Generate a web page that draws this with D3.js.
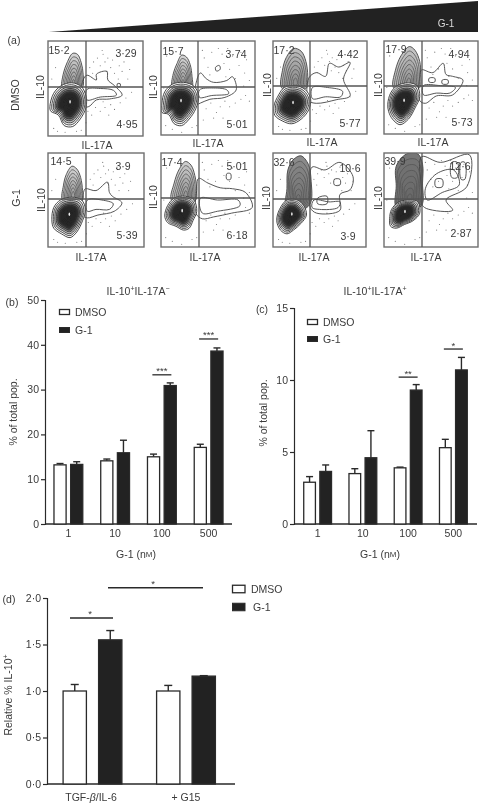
<!DOCTYPE html>
<html><head><meta charset="utf-8">
<script src="https://cdnjs.cloudflare.com/ajax/libs/d3/7.8.5/d3.min.js"></script>
<style>html,body{margin:0;padding:0;background:#fff}svg{display:block}text{font-family:"Liberation Sans",Arial,sans-serif;fill:#3a3a3a}</style>
</head><body><svg id="c" width="480" height="803"></svg>
<script>
// ---------- data ----------
const doses = ["1","10","100","500"];
const seriesNames = ["DMSO","G-1"];
const bDmso = [13.2,14.1,15.0,17.1], bDmsoTop = [13.5,14.5,15.6,17.8];
const bG1 = [13.3,15.9,30.9,38.6],   bG1Top = [13.9,18.7,31.5,39.3];
const cDmso = [2.9,3.5,3.9,5.3],     cDmsoTop = [3.29,3.84,3.95,5.88];
const cG1 = [3.65,4.6,9.3,10.7],     cG1Top = [4.1,6.48,9.68,11.57];
const dCats = ["TGF","G15"];
const dDmso = [1.0,1.0],  dDmsoTop = [1.07,1.06];
const dG1 = [1.55,1.16],  dG1Top = [1.65,1.165];
const bSig = [["100",33.3,"***"],["500",41.3,"***"]];
const cSig = [["100",10.2,"**"],["500",12.15,"*"]];
const yTicksB = [0,10,20,30,40,50], yTicksC = [0,5,10,15], yTicksD = [0,0.5,1,1.5,2];
// flow panels, reading order
const ulLabels = ["15·2","15·7","17·2","17·9","14·5","17·4","32·6","39·9"];
const urLabels = ["3·29","3·74","4·42","4·94","3·9","5·01","10·6","12·6"];
const lrLabels = ["4·95","5·01","5·77","5·73","5·39","6·18","3·9","2·87"];
// contour outlines in percent of the axis range (x right, y up)
const lobeOutlines = [
 [[15,50],[16,65],[20,77],[26,87],[31,86],[35,77],[37,65],[36,50],[25,44]],
 [[12,50],[13,65],[17,76],[22,85],[27,83],[31,75],[33,62],[33,50],[22,44]],
 [[9,50],[10,68],[14,82],[22,92],[30,89],[35,78],[37,62],[36,50],[22,44]],
 [[10,50],[12,68],[18,84],[27,94],[33,90],[38,78],[39,64],[38,50],[22,44]],
 [[15,50],[16,65],[19,77],[25,86],[30,83],[34,74],[36,60],[36,50],[25,44]],
 [[11,50],[14,68],[19,82],[26,91],[32,87],[36,76],[38,60],[37,50],[24,44]],
 [[14,40],[15,62],[16,82],[22,93],[30,97],[38,88],[41,70],[40,46],[28,38]],
 [[13,42],[13,65],[13,86],[24,99],[36,99],[41,88],[41,68],[40,44],[26,38]]];
const mainOutlines = [
 [[2,31],[6,45],[14,53],[25,56],[35,52],[40,42],[40,30],[34,18],[26,10],[17,11],[11,22],[3,26]],
 [[1,34],[4,46],[12,54],[24,56],[35,52],[40,42],[37,28],[30,17],[22,10],[14,12],[8,22],[1,24]],
 [[1,30],[6,42],[12,50],[24,52],[34,48],[40,38],[38,26],[30,16],[20,11],[10,14],[2,20]],
 [[4,32],[7,44],[14,52],[26,55],[35,52],[38,40],[33,28],[26,16],[17,10],[9,16],[5,24]],
 [[4,29],[6,42],[13,50],[25,53],[35,50],[39,40],[36,28],[30,16],[23,10],[14,14],[6,20]],
 [[4,33],[7,44],[14,52],[26,54],[35,50],[38,38],[34,28],[30,20],[24,18],[16,22],[7,26]],
 [[4,28],[7,40],[15,50],[26,50],[33,44],[36,34],[30,25],[22,18],[15,14],[8,18]],
 [[6,30],[8,40],[16,48],[28,50],[36,48],[38,36],[31,28],[22,24],[13,20],[7,22]]];
const tailOutlines = [
 [[37,59],[41,64],[51,59],[51,65],[62,68],[63,59],[70,53],[78,43],[65,39],[51,38],[43,31],[34,31]],
 [[38,58],[42,66],[48,60],[56,56],[70,58],[76,62],[80,48],[68,40],[52,38],[42,34],[36,32]],
 [[38,60],[46,66],[56,62],[60,76],[70,72],[82,77],[75,59],[82,41],[68,37],[46,33],[38,36]],
 [[38,62],[40,69],[52,66],[63,76],[66,64],[73,62],[84,58],[73,42],[56,41],[44,33],[38,36]],
 [[37,58],[39,62],[50,60],[62,69],[64,58],[67,54],[77,47],[69,38],[52,34],[41,31],[36,34]],
 [[38,60],[40,73],[50,68],[63,63],[76,62],[90,58],[97,42],[75,36],[56,32],[44,30],[37,36]],
 [[40,60],[42,85],[56,82],[72,90],[86,75],[83,61],[72,56],[72,39],[47,36],[40,42]],
 [[40,60],[40,96],[60,90],[91,98],[88,64],[66,50],[73,39],[45,41],[40,46]]];
const innerTails = [
 [[41,49],[55,50],[69,48],[72,43],[55,41],[41,38]],
 [[41,48],[56,50],[70,48],[72,44],[54,42],[41,40]],
 [[42,50],[58,50],[74,46],[72,40],[56,40],[42,38]],
 [[42,52],[60,52],[76,50],[70,44],[56,44],[42,42]],
 [[41,50],[56,50],[68,46],[64,40],[50,40],[41,38]],
 [[42,52],[60,50],[82,50],[84,44],[60,38],[44,36]],
 [[44,50],[60,48],[72,48],[70,42],[50,40],[42,42]],
 [[44,62],[56,78],[74,82],[80,66],[62,58],[46,50]]];
const loops = [
 [[[73,55],[76,55],[76,52],[73,52]]],
 [[[58,72],[62,74],[63,70],[59,68]]],
 [],
 [[[48,60],[54,60],[54,56],[48,56]],[[62,58],[68,58],[68,54],[62,54]]],
 [],
 [[[70,78],[74,78],[74,72],[70,72]]],
 [[[66,72],[72,72],[72,66],[66,66]],[[48,52],[58,54],[58,46],[48,46]]],
 [[[55,72],[62,72],[62,64],[55,64]],[[72,90],[78,90],[78,74],[72,74]],[[82,90],[86,90],[86,72],[82,72]]]];
const lobeShade = [.22,.22,.34,.3,.22,.26,.6,.7];
// scattered events (percent of axis range)
const eventsA = [[44,72],[48,78],[52,82],[55,74],[58,86],[60,78],[63,82],[66,72],[68,80],[70,66],[72,85],[75,74],[78,68],[80,78],[62,68],[57,90],[47,66],[84,60],[86,70],[74,60],[50,30],[55,26],[60,30],[66,33],[70,28],[76,35],[82,40],[64,22],[46,22],[58,36],[42,26],[88,46],[6,8],[10,5],[18,4],[30,5],[4,60],[8,72],[35,6],[40,14]];
const eventsB = [[46,82],[50,72],[54,88],[58,70],[61,92],[65,86],[67,76],[71,92],[73,70],[76,84],[79,60],[83,74],[85,88],[89,66],[91,80],[69,62],[52,64],[44,90],[94,58],[88,52],[48,28],[53,34],[59,24],[63,30],[68,36],[73,30],[79,34],[85,38],[90,42],[56,18],[45,16],[66,18],[94,36],[5,10],[12,6],[22,3],[33,8],[3,50],[6,84],[38,10]];

// ---------- layout ----------
const boxes = [
 [48,143,41,136,86,87],[161,255,41,135,198,87],[273,367,41,134,310,86],[384,478,41,134,422,86],
 [48,144,153,247,86,199],[161,255,153,247,199,198],[273,366,153,247,310,199],[384,478,153,247,422,199]];
const ulPos=[[59,50],[173,51],[284,50],[396,49],[61,161],[172,162],[284,162],[395,161]];
const urPos=[[126,53],[236,54],[348,54],[459,54],[123,166],[237,166],[350,168],[460,166]];
const lrPos=[[127,124],[237,124],[350,123],[462,122],[127,235],[237,235],[348,236],[461,233]];
const xlabPos=[[97,145],[208,143],[322,142],[433,142],[91,257],[205,257],[314,257],[426,257]];
const ylabPos=[[40,87],[153,87],[267,85],[378,85],[41,200],[153,197],[266,198],[378,198]];

const svg = d3.select("#c");
const defs = svg.append("defs");
defs.append("filter").attr("id","soft").attr("x","-2%").attr("y","-2%").attr("width","104%").attr("height","104%")
  .append("feGaussianBlur").attr("stdDeviation",0.45);
const root = svg.append("g").attr("filter","url(#soft)");
const INK="#2a2a2a", TXT="#3a3a3a", FS=10.5;

function label(s,x,y,opt={}){
  const t=root.append("text").attr("x",x).attr("y",y).attr("font-size",opt.size||FS)
   .attr("text-anchor",opt.anchor||"middle").attr("dominant-baseline","central").text(s);
  if(opt.rot) t.attr("transform",`rotate(${opt.rot} ${x} ${y})`);
  if(opt.fill) t.style("fill",opt.fill);
  return t;
}

// ---------- panel (a) ----------
root.append("polygon").attr("points","49,32 478,1 478,32").attr("fill","#222");
label("G-1",446,23,{fill:"#d8d8d8",size:10});
label("(a)",14,40);
label("DMSO",15,95,{rot:-90});
label("G-1",16,198,{rot:-90});

function shrink(pts,f,k){return pts.map(p=>[f[0]+(p[0]-f[0])*k,f[1]+(p[1]-f[1])*k]);}
const lobeRings=[.88,.76,.64,.52,.4,.28,.16];
const mainRings=[.91,.82,.73,.65,.57,.5,.43,.36,.29,.22,.16];
boxes.forEach((b,i)=>{
  const [x0,x1,y0,y1,dx,dy]=b;
  const sx=d3.scaleLinear().domain([0,100]).range([x0,x1]);
  const sy=d3.scaleLinear().domain([0,100]).range([y1,y0]);
  const line=d3.line().x(d=>sx(d[0])).y(d=>sy(d[1])).curve(d3.curveCatmullRomClosed.alpha(.5));
  const id="clip"+i;
  defs.append("clipPath").attr("id",id).append("rect").attr("x",x0).attr("y",y0).attr("width",x1-x0).attr("height",y1-y0);
  const g=root.append("g").attr("clip-path",`url(#${id})`);
  const ev=i%2?eventsB:eventsA;
  g.selectAll("circle").data(ev).join("circle").attr("cx",d=>sx(d[0])).attr("cy",d=>sy(d[1])).attr("r",0.55).attr("fill","#777");
  [tailOutlines[i],innerTails[i],...loops[i]].forEach(o=>{
    g.append("path").attr("d",line(o)).attr("fill","none").attr("stroke","#444").attr("stroke-width",.9);
  });
  // lobe rings
  const lobe=lobeOutlines[i];
  const lf=[d3.mean(lobe,d=>d[0]),d3.min(lobe,d=>d[1])+10];
  g.append("path").attr("d",line(lobe)).attr("fill",`rgba(60,60,60,${lobeShade[i]})`).attr("stroke","#444").attr("stroke-width",.9);
  lobeRings.forEach(k=>{
    g.append("path").attr("d",line(shrink(lobe,lf,k))).attr("fill","rgba(90,90,90,.08)").attr("stroke","#555").attr("stroke-width",.8);
  });
  // main blob
  const main=mainOutlines[i];
  const mf=d3.polygonCentroid(main);
  g.append("path").attr("d",line(main)).attr("fill","#fff").attr("stroke","#333").attr("stroke-width",.9);
  mainRings.forEach((k,j)=>{
    const fo=[.12,.2,.35,.5,.65,.7,.75,.8,.85,.9,.9][j];
    g.append("path").attr("d",line(shrink(main,mf,k)))
      .attr("fill",`rgba(35,35,35,${fo})`).attr("stroke","#2a2a2a").attr("stroke-width",.8);
  });
  g.append("ellipse").attr("cx",sx(mf[0]+1)).attr("cy",sy(mf[1]+2)).attr("rx",.8).attr("ry",1.8).attr("fill","#eee");
  // gates
  root.append("rect").attr("x",x0).attr("y",y0).attr("width",x1-x0).attr("height",y1-y0)
    .attr("fill","none").attr("stroke","#6e6e6e").attr("stroke-width",1.4);
  root.append("line").attr("x1",dx).attr("x2",dx).attr("y1",y0).attr("y2",y1).attr("stroke","#555").attr("stroke-width",1.3);
  root.append("line").attr("x1",x0).attr("x2",x1).attr("y1",dy).attr("y2",dy).attr("stroke","#555").attr("stroke-width",1.3);
  label(ulLabels[i],ulPos[i][0],ulPos[i][1]);
  label(urLabels[i],urPos[i][0],urPos[i][1]);
  label(lrLabels[i],lrPos[i][0],lrPos[i][1]);
  label("IL-17A",xlabPos[i][0],xlabPos[i][1]);
  label("IL-10",ylabPos[i][0],ylabPos[i][1],{rot:-90});
});

// ---------- bar panels ----------
function barPanel(o){
  const x=d3.scaleBand().domain(o.cats).range(o.xr);
  const xs=d3.scaleBand().domain(seriesNames).range([-o.half,o.half]).paddingInner(o.pad);
  const y=d3.scaleLinear().domain(o.yd).range([o.y0,o.y1]);
  const g=root.append("g");
  const ax=g.append("g").attr("transform",`translate(${o.axisX},0)`).call(d3.axisLeft(y).tickValues(o.ticks).tickSize(4).tickPadding(2).tickFormat(o.fmt));
  ax.selectAll("text").attr("font-size",FS).style("font-family",'"Liberation Sans",Arial,sans-serif').style("fill",TXT);
  ax.selectAll("line,path").attr("stroke",INK).attr("stroke-width",1.2);
  const bx=g.append("g").attr("transform",`translate(0,${o.y0})`).call(d3.axisBottom(x).tickSize(0).tickPadding(6).tickFormat(o.xfmt||(d=>d)));
  bx.select("path").attr("stroke",INK).attr("stroke-width",1.3).attr("d",`M${o.axisX},0H${o.axisEnd}`);
  bx.selectAll("text").attr("font-size",FS).style("font-family",'"Liberation Sans",Arial,sans-serif').style("fill",TXT);
  seriesNames.forEach((s,si)=>{
    const vals=si?o.g1:o.dmso, tops=si?o.g1Top:o.dmsoTop;
    o.cats.forEach((c,i)=>{
      const cx=x(c)+x.bandwidth()/2+xs(s);
      const w=xs.bandwidth();
      g.append("line").attr("x1",cx+w/2).attr("x2",cx+w/2).attr("y1",y(vals[i])).attr("y2",y(tops[i])).attr("stroke",INK).attr("stroke-width",1.4);
      g.append("line").attr("x1",cx+w/2-o.cap).attr("x2",cx+w/2+o.cap).attr("y1",y(tops[i])).attr("y2",y(tops[i])).attr("stroke",INK).attr("stroke-width",1.4);
      g.append("rect").attr("x",cx+.6).attr("y",y(vals[i])).attr("width",w-1.2).attr("height",y(0)-y(vals[i]))
        .attr("fill",si?"#222":"#fff").attr("stroke",INK).attr("stroke-width",1.3);
    });
  });
  (o.sig||[]).forEach(([c,v,st])=>{
    const cx=x(c)+x.bandwidth()/2;
    g.append("line").attr("x1",cx-9.5).attr("x2",cx+9.5).attr("y1",y(v)).attr("y2",y(v)).attr("stroke",INK).attr("stroke-width",1.3);
    label(st,cx,y(v)-4,{size:9.5});
  });
  return {x,y};
}
function legend(x,xt,y1,y2,w,h,xt2){
  root.append("rect").attr("x",x).attr("y",y1-h/2).attr("width",w).attr("height",h).attr("fill","#fff").attr("stroke",INK).attr("stroke-width",1.3);
  root.append("rect").attr("x",x).attr("y",y2-h/2).attr("width",w).attr("height",h).attr("fill","#222").attr("stroke",INK).attr("stroke-width",1);
  label(seriesNames[0],xt,y1,{anchor:"start"});
  label(seriesNames[1],xt2||xt,y2,{anchor:"start"});
}
function nM(x,y){const t=label("G-1 (n",x,y);t.append("tspan").attr("font-size",8).text("M");t.append("tspan").text(")");}

barPanel({cats:doses,xr:[45,232],half:15,pad:.2,cap:3.5,yd:[0,50],y0:524,y1:300,axisX:45,axisEnd:232,ticks:yTicksB,fmt:d=>d,
  dmso:bDmso,dmsoTop:bDmsoTop,g1:bG1,g1Top:bG1Top,sig:bSig});
legend(59.5,75,312,330,10,5);
nM(136,554);
label("% of total pop.",13,412,{rot:-90});
label("(b)",12,302);
{const t=label("",138,291);t.append("tspan").text("IL-10");t.append("tspan").attr("dy",-3).attr("font-size",7).text("+");t.append("tspan").attr("dy",3).text("IL-17A");t.append("tspan").attr("dy",-3).attr("font-size",7).text("−");}

barPanel({cats:doses,xr:[295,476],half:14.5,pad:.2,cap:3.5,yd:[0,15],y0:524,y1:308,axisX:294,axisEnd:477,ticks:yTicksC,fmt:d=>d,
  dmso:cDmso,dmsoTop:cDmsoTop,g1:cG1,g1Top:cG1Top,sig:cSig});
legend(307.5,323,322,339,10,5);
nM(380,554);
label("% of total pop.",263,413,{rot:-90});
label("(c)",262,309);
{const t=label("",375,291);t.append("tspan").text("IL-10");t.append("tspan").attr("dy",-3).attr("font-size",7).text("+");t.append("tspan").attr("dy",3).text("IL-17A");t.append("tspan").attr("dy",-3).attr("font-size",7).text("+");}

const dP=barPanel({cats:dCats,xr:[45.75,232.75],half:30,pad:.31,cap:4,yd:[0,2],y0:784,y1:598,axisX:47,axisEnd:235,ticks:yTicksD,fmt:d=>d3.format(".1f")(d).replace(".","·"),
  dmso:dDmso,dmsoTop:dDmsoTop,g1:dG1,g1Top:dG1Top,xfmt:()=>""});
root.append("line").attr("x1",70).attr("x2",113).attr("y1",dP.y(1.785)).attr("y2",dP.y(1.785)).attr("stroke",INK).attr("stroke-width",1.4);
label("*",90,dP.y(1.785)-4,{size:9.5});
root.append("line").attr("x1",108).attr("x2",203).attr("y1",dP.y(2.11)).attr("y2",dP.y(2.11)).attr("stroke",INK).attr("stroke-width",1.4);
label("*",153,dP.y(2.11)-4,{size:9.5});
legend(232.5,251,589,607,12.5,7.5,253);
label("(d)",9,599);
{const t=label("",8,695,{rot:-90});t.append("tspan").text("Relative % IL-10");t.append("tspan").attr("dy",-3).attr("font-size",7).text("+");}
{const t=label("",91,797);t.append("tspan").text("TGF-");t.append("tspan").attr("font-style","italic").text("β");t.append("tspan").text("/IL-6");}
label("+ G15",186,797);
</script></body></html>
